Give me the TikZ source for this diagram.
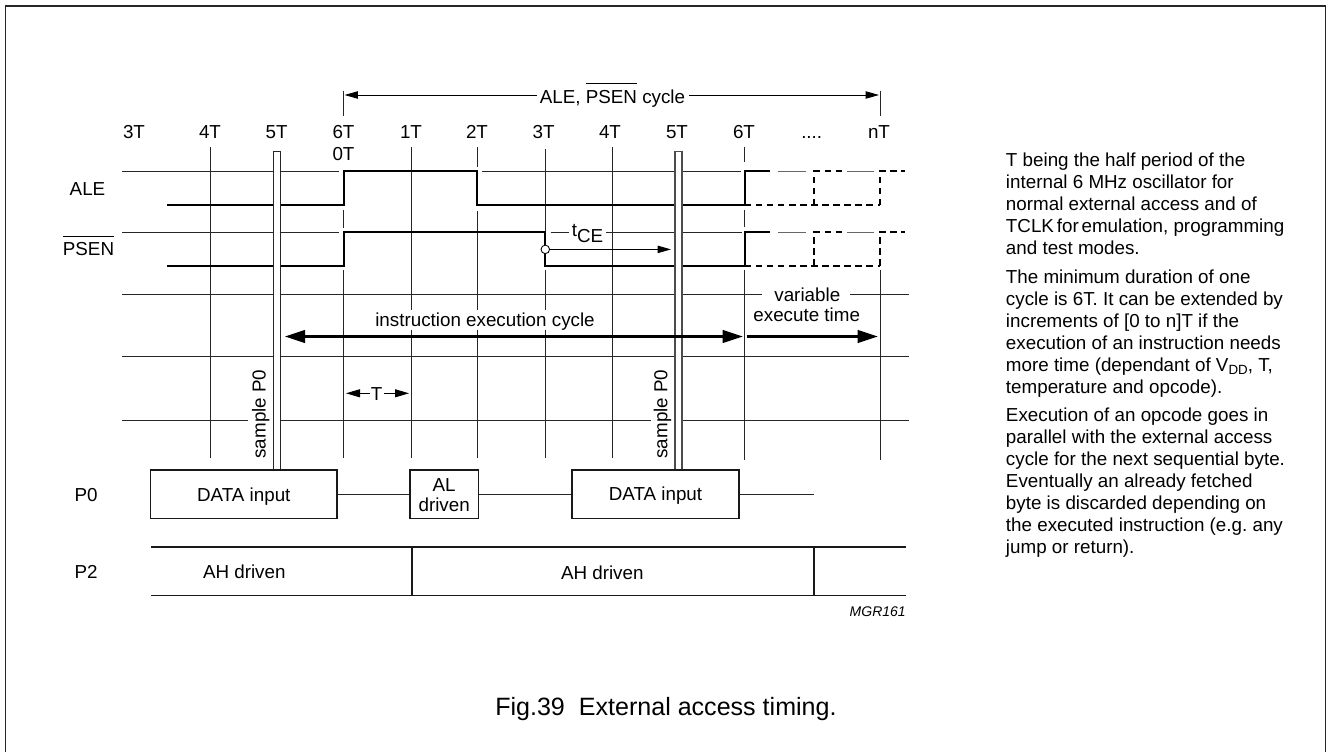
\documentclass[tikz,border=0pt]{standalone}
\usepackage{fontspec}
\setmainfont{Liberation Sans}
\usetikzlibrary{arrows.meta}
\frenchspacing
\newcommand{\pxsize}{\fontsize{14.1}{16.5}\selectfont}
\newcommand{\ovl}[1]{\setbox0=\hbox{#1}\rlap{\raisebox{14.3pt}{\rule{\wd0}{0.6pt}}}\box0\relax}
\tikzset{
  x=0.75pt,y=-0.75pt,
  gridline/.style={line width=0.65pt,black!85},
  sig/.style={line width=1.75pt,black,line join=miter},
  sigdash/.style={line width=1.75pt,black,dash pattern=on 4.9pt off 3.4pt},
  busline/.style={line width=1pt,black!90},
  txt/.style={font=\pxsize,inner sep=0pt,anchor=base},
  para/.style={font=\pxsize,inner sep=0pt,anchor=north west,align=left},
  databox/.style={draw=black!90,line width=1pt,inner sep=0pt,fill=white,minimum height=36.5pt},
  tube/.style={draw=black!85,line width=0.85pt,fill=white},
  thinarrow/.style={line width=0.65pt,-{Triangle[length=10pt,width=5.5pt]}},
  bigboth/.style={line width=1.6pt,{Triangle[length=15pt,width=9.5pt]}-{Triangle[length=15pt,width=9.5pt]}},
  bigarrow/.style={line width=1.6pt,-{Triangle[length=15pt,width=9.5pt]}},
}
\begin{document}
\begin{tikzpicture}
\useasboundingbox (0,0) rectangle (1327,752);
% frame
\draw[line width=1pt,black!85] (5.6,752) -- (5.6,6) -- (1325.7,6) -- (1325.7,752);
% horizontal grid
\draw[gridline] (122,171.3) -- (339,171.3) (481.7,171.3) -- (741,171.3);
\draw[gridline,black!60] (778,171.3) -- (805.7,171.3) (847,171.3) -- (874,171.3);
\draw[gridline] (122,232) -- (339,232) (550.7,232) -- (569,232) (606,232) -- (741.7,232);
\draw[gridline,black!60] (778,232) -- (805.7,232) (847,232) -- (874,232);
\draw[gridline] (122,294) -- (761.7,294) (850,294) -- (909,294);
\draw[gridline] (122,356.3) -- (909,356.3);
\draw[gridline] (122,420.7) -- (247.7,420.7) (280,420.7) -- (651,420.7) (682,420.7) -- (909,420.7);
% vertical grid
\draw[gridline] (210,147) -- (210,458);
\draw[gridline] (343.7,210) -- (343.7,228) (343.7,270) -- (343.7,458);
\draw[gridline] (411,147) -- (411,309.5) (411,329.5) -- (411,458);
\draw[gridline] (477,147) -- (477,167) (477,211) -- (477,309.5) (477,329.5) -- (477,458);
\draw[gridline] (545.3,149) -- (545.3,232) (545.3,270) -- (545.3,309.5) (545.3,329.5) -- (545.3,458);
\draw[gridline] (612,147) -- (612,458);
\draw[gridline] (744.7,147) -- (744.7,162) (744.7,210) -- (744.7,227) (744.7,270) -- (744.7,460);
\draw[gridline] (880,270) -- (880,460);
% ticks
\coordinate (tickLa) at (343.7,90.7); \coordinate (tickLb) at (343.7,115.7);
\coordinate (tickRa) at (880,90.7); \coordinate (tickRb) at (880,115.7);
\draw[gridline] (tickLa) -- (tickLb) (tickRa) -- (tickRb);
% signals
\draw[sig] (167,205.3) -- (343.7,205.3) -- (343.7,171.3) -- (477,171.3) -- (477,205.3) -- (744.7,205.3) -- (744.7,171.3) -- (770,171.3);
\draw[sig] (167,266) -- (343.7,266) -- (343.7,232) -- (545.3,232) -- (545.3,266) -- (744.7,266) -- (744.7,232) -- (770,232);
\draw[sigdash] (744.7,205.3) -- (880,205.3) (814.3,205.3) -- (814.3,171.3) -- (842,171.3) (880,205.3) -- (880,171.3) -- (905,171.3);
\draw[sigdash] (744.7,266) -- (880,266) (814.3,266) -- (814.3,232) -- (842,232) (880,266) -- (880,232) -- (905,232);
% sample tubes
\draw[tube] (273.5,470) -- (273.5,151.7) -- (280.2,151.7) -- (280.2,470);
\draw[tube,line width=1.2pt,draw=black!70] (675.2,470) -- (675.2,151.7) -- (681.9,151.7) -- (681.9,470);
% top labels
\foreach \n/\xx/\lbl in {a/134/3T,b/210/4T,c/276.7/5T,d/343.5/6T,e/411/1T,f/477/2T,g/543.7/3T,h/610/4T,i/677/5T,j/744/6T,l/879/nT}
  \node[txt] (top\n) at (\xx,139) {\lbl};
\node[txt] (topk) at (811.7,139) {....};
\node[txt] (zeroT) at (343.5,161) {0T};
\node[txt] (ale) at (87.5,195.5) {ALE};
\node[txt] (psen) at (88.5,256) {\ovl{PSEN}};
\node[txt] (pzero) at (86,501.7) {P0};
\node[txt] (ptwo) at (86,578) {P2};
% cycle arrow
\node[txt] (cyc) at (612.5,103.3) {ALE, \ovl{PSEN} cycle};
\coordinate (cycL) at (344.5,95); \coordinate (cycR) at (879,95);
\coordinate (cycA) at (536.7,95); \coordinate (cycB) at (689,95);
\draw[thinarrow] (cycA) -- (cycL);
\draw[thinarrow] (cycB) -- (cycR);
% tCE
\node[txt] (tce) at (587.5,236.7) {t\raisebox{-4.5pt}{CE}};
\coordinate (tceEnd) at (671,249.4);
\node[circle,draw=black,fill=white,line width=0.65pt,minimum size=6.4pt,inner sep=0pt] (tcedot) at (545.3,249.4) {};
\draw[thinarrow] (tcedot) -- (tceEnd);
% cycle arrows
\coordinate (insL) at (285,336.5); \coordinate (insR) at (742.7,336.5);
\coordinate (varL) at (746.5,336.5); \coordinate (varR) at (877.7,336.5);
\draw[bigboth] (insL) -- (insR);
\draw[bigarrow] (varL) -- (varR);
\node[txt] (ins) at (485,326) {instruction execution cycle};
\node[txt] (vara) at (807.3,301.7) {variable};
\node[txt] (varb) at (806.7,321.7) {execute time};
% T
\node[txt] (tt) at (376.7,400) {T};
\coordinate (ttL) at (346,393.3); \coordinate (ttR) at (409,393.3);
\coordinate (ttA) at (370,393.3); \coordinate (ttB) at (384,393.3);
\draw[line width=0.65pt,-{Triangle[length=10.5pt,width=6pt]}] (ttA) -- (ttL);
\draw[line width=0.65pt,-{Triangle[length=10.5pt,width=6pt]}] (ttB) -- (ttR);
% sample labels
\node[txt,rotate=90] (sa) at (265.7,414) {sample P0};
\node[txt,rotate=90] (sb) at (667.3,414) {sample P0};
% P0
\node[databox,minimum width=139.7pt] (d1) at (243.8,494.3) {};
\node[databox,minimum width=51.2pt] (al) at (444.2,494.3) {};
\node[databox,minimum width=125.25pt] (d2) at (655.5,494.3) {};
\node[txt] (d1t) at (243.8,501.7) {DATA input};
\node[txt] (alt) at (444.2,491) {AL};
\node[txt] (alu) at (444.2,511) {driven};
\node[txt] (d2t) at (655.5,500.7) {DATA input};
\coordinate (p0end) at (814,494.3);
\draw[gridline] (d1) -- (al);
\draw[gridline] (al) -- (d2);
\draw[gridline] (d2) -- (p0end);
% P2
\draw[busline] (151,547) -- (906,547) (151,595.3) -- (906,595.3) (412,547) -- (412,595.3) (814,547) -- (814,595.3);
\node[txt] (aha) at (244.3,578) {AH driven};
\node[txt] (ahb) at (602.3,579) {AH driven};
\node[font=\fontsize{10.5}{12}\selectfont\itshape,inner sep=0pt,anchor=base east] (mgr) at (906,616) {MGR161};
% right text
\node[para] (pa) at (1005.7,152.5) {T being the half period of the\\internal 6 MHz oscillator for\\normal external access and of\\TCLK\hspace{0.15em}for\hspace{0.15em}emulation, programming\\and test modes.};
\node[para] (pb) at (1005.7,269.5) {The minimum duration of one\\cycle is 6T. It can be extended by\\increments of [0 to n]T if the\\execution of an instruction needs\\more time (dependant of V\raisebox{-2pt}{\fontsize{10}{12}\selectfont DD}, T,\\temperature and opcode).};
\node[para] (pc) at (1005.7,407.5) {Execution of an opcode goes in\\parallel with the external access\\cycle for the next sequential byte.\\Eventually an already fetched\\byte is discarded depending on\\the executed instruction (e.g. any\\jump or return).};
% caption
\node[font=\fontsize{18.8}{22}\selectfont,inner sep=0pt,anchor=base west] (cap) at (495,715) {Fig.39\hspace{0.556em}External access timing.};
\end{tikzpicture}
\end{document}
